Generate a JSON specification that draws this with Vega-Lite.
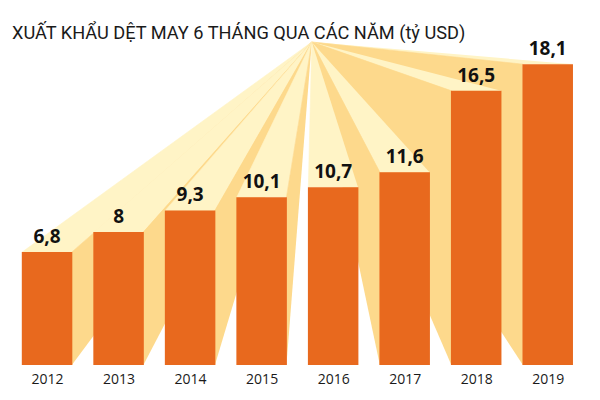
{
  "$schema": "https://vega.github.io/schema/vega-lite/v6.json",
  "width": 600,
  "height": 325,
  "autosize": {"type": "none"},
  "padding": {"left": 0, "right": 0, "top": 40, "bottom": 35},
  "background": "white",
  "config": {
    "view": {"stroke": null},
    "locale": {"number": {"decimal": ",", "thousands": ".", "grouping": [3], "currency": ["", ""]}}
  },
  "title": {
    "text": "XUẤT KHẨU DỆT MAY 6 THÁNG QUA CÁC NĂM (tỷ USD)",
    "anchor": "start",
    "frame": "group",
    "dx": 12,
    "dy": 23,
    "offset": 6,
    "baseline": "alphabetic",
    "font": "Roboto",
    "fontSize": 18.2,
    "fontWeight": "normal",
    "color": "#1a1a1a"
  },
  "data": {
    "values": [
      {"year": 2012, "value": 6.8},
      {"year": 2019, "value": 18.1},
      {"year": 2013, "value": 8},
      {"year": 2018, "value": 16.5},
      {"year": 2014, "value": 9.3},
      {"year": 2017, "value": 11.6},
      {"year": 2015, "value": 10.1},
      {"year": 2016, "value": 10.7}
    ]
  },
  "layer": [
    {
      "transform": [
        {"calculate": "datum.year < 2016 ? datum.year + 0.347 : datum.year - 0.347", "as": "sx"},
        {"calculate": "[{'k':'top','o':0,'x':2015.701,'y':19.434},{'k':'top','o':1,'x':datum.year-0.347,'y':datum.value},{'k':'top','o':2,'x':datum.year+0.347,'y':datum.value},{'k':'side','o':0,'x':2015.701,'y':19.434},{'k':'side','o':1,'x':datum.sx,'y':datum.value},{'k':'side','o':2,'x':datum.sx,'y':0}]", "as": "v"},
        {"flatten": ["v"]},
        {"calculate": "datum.v.x", "as": "vx"},
        {"calculate": "datum.v.y", "as": "vy"},
        {"calculate": "datum.v.o", "as": "vo"},
        {"calculate": "datum.v.k", "as": "vk"},
        {"calculate": "datum.year + '-' + datum.v.k", "as": "poly"},
        {"filter": "!(datum.year == 2016 && datum.vk == 'side')"}
      ],
      "mark": {"type": "line", "strokeWidth": 0.6, "filled": true},
      "encoding": {
        "x": {"field": "vx", "type": "quantitative", "scale": {"domain": [2011.412, 2019.661], "nice": false, "zero": false}, "axis": {"values": [2012, 2013, 2014, 2015, 2016, 2017, 2018, 2019], "format": "d", "title": null, "grid": false, "domain": false, "ticks": false, "labelFont": "Open Sans", "labelFontSize": 14, "labelColor": "#1a1a1a", "labelPadding": 7}},
        "y": {"field": "vy", "type": "quantitative", "scale": {"domain": [0, 19.555], "nice": false}, "axis": null},
        "detail": {"field": "poly"},
        "order": {"field": "vo"},
        "fill": {"field": "vk", "type": "nominal", "scale": {"domain": ["top", "side"], "range": ["#FFF4C6", "#FDD98C"]}, "legend": null},
        "stroke": {"field": "vk", "type": "nominal", "scale": {"domain": ["top", "side"], "range": ["#FFF4C6", "#FDD98C"]}, "legend": null}
      }
    },
    {
      "mark": {"type": "bar", "size": 50.5, "color": "#E8691E"},
      "encoding": {
        "x": {"field": "year", "type": "quantitative", "scale": {"domain": [2011.412, 2019.661], "nice": false, "zero": false}, "axis": {"values": [2012, 2013, 2014, 2015, 2016, 2017, 2018, 2019], "format": "d", "title": null, "grid": false, "domain": false, "ticks": false, "labelFont": "Open Sans", "labelFontSize": 14, "labelColor": "#1a1a1a", "labelPadding": 7}},
        "y": {"field": "value", "type": "quantitative", "scale": {"domain": [0, 19.555], "nice": false}, "axis": null}
      }
    },
    {
      "mark": {"type": "text", "font": "Open Sans", "fontSize": 19, "fontWeight": "bold", "color": "#111111", "baseline": "alphabetic", "dy": -9},
      "encoding": {
        "x": {"field": "year", "type": "quantitative"},
        "y": {"field": "value", "type": "quantitative"},
        "text": {"field": "value", "type": "quantitative", "format": ".1~f"}
      }
    }
  ]
}
